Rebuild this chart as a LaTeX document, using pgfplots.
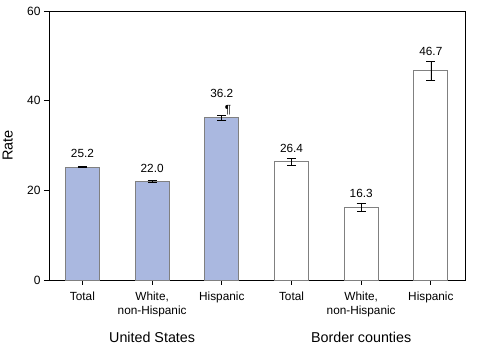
\documentclass[border=0pt]{standalone}
\usepackage{fontspec}
\setmainfont{Liberation Sans}
\usepackage{pgfplots}
\pgfplotsset{compat=1.18}
\usetikzlibrary{calc}
\definecolor{usblue}{RGB}{170,184,224}
\definecolor{bordgray}{RGB}{128,128,128}
\begin{document}
\begin{tikzpicture}[font=\fontsize{11.8}{14}\selectfont]
\begin{axis}[
  scale only axis, width=416pt, height=269pt,
  xmin=-0.48, xmax=5.49, ymin=0, ymax=60,
  ytick={0,20,40,60},
  xtick={0,1,2,3,4,5},
  xticklabels={Total,{White,\\non-Hispanic},Hispanic,Total,{White,\\non-Hispanic},Hispanic},
  xticklabel style={align=center, yshift=-3pt, font=\fontsize{11.8}{14}\selectfont},
  yticklabel style={font=\fontsize{12}{14}\selectfont},
  /pgf/number format/assume math mode=true,
  tick align=outside, tick pos=left,
  major tick length=5pt,
  tick style={black, line width=0.8pt},
  axis line style={black, line width=0.8pt},
  ylabel={Rate},
  ylabel style={at={(axis description cs:-0.099,0.5)}, anchor=center, font=\fontsize{14.5}{16}\selectfont},
  clip=false,
  error bars/error bar style={black, line width=0.7pt},
  error bars/error mark options={rotate=90, mark size=4.5pt, black, line width=0.7pt},
]
\coordinate (SW) at (rel axis cs:0,0);
\coordinate (NE) at (rel axis cs:1,1);
\addplot[ybar, bar width=34pt, bar shift=0pt, fill=usblue, draw=bordgray, line width=0.8pt,
  error bars/.cd, y dir=both, y explicit]
  coordinates {(0,25.2) +- (0,0.12) (1,22.0) +- (0,0.12) (2,36.2) +- (0,0.55)};
\addplot[ybar, bar width=34pt, bar shift=0pt, fill=white, draw=bordgray, line width=0.8pt,
  error bars/.cd, y dir=both, y explicit]
  coordinates {(3,26.4) +- (0,0.8) (4,16.3) +- (0,0.9) (5,46.7) +- (0,2.1)};
\node at (axis cs:0,28.3) {25.2};
\node at (axis cs:1,24.8) {22.0};
\node at (axis cs:2,41.7) {36.2};
\node at (axis cs:2.09,37.9) {\P};
\node at (axis cs:3,29.4) {26.4};
\node at (axis cs:4,19.2) {16.3};
\node at (axis cs:5,50.9) {46.7};
\node[font=\fontsize{14.3}{16}\selectfont] at (axis cs:1,-12.7) {United States};
\node[font=\fontsize{14.3}{16}\selectfont] at (axis cs:4,-12.7) {Border counties};
\end{axis}
\pgfresetboundingbox
\path ($(SW)+(-49pt,-76pt)$) rectangle ($(NE)+(23pt,11pt)$);
\end{tikzpicture}
\end{document}
